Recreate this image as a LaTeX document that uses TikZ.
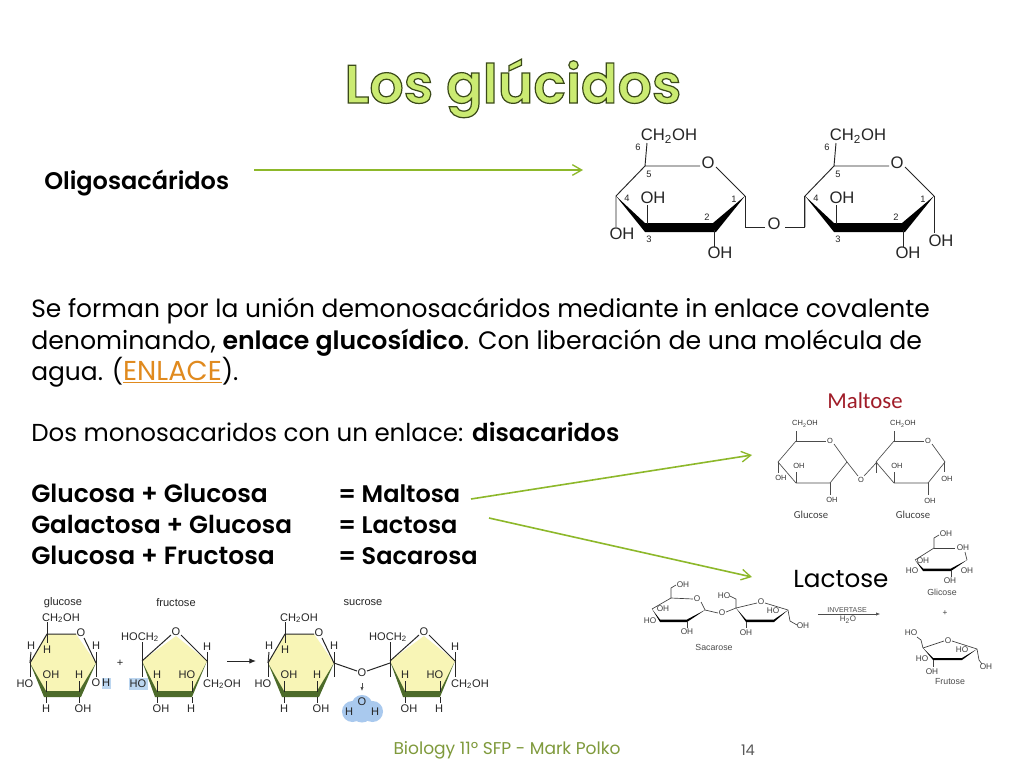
\documentclass[tikz,border=0pt]{standalone}
\usepackage{fontspec}
\setmainfont{Poppins}[BoldFont={Poppins SemiBold}]
\newfontfamily\chemfont{Liberation Sans}
\newfontfamily\capfont{Carlito}
\usetikzlibrary{arrows.meta}
\definecolor{arrowgreen}{HTML}{8DB82A}
\definecolor{titlefill}{HTML}{CBEB72}
\definecolor{footgreen}{HTML}{7F9A3C}
\definecolor{linkorange}{HTML}{E08A1E}
\definecolor{ringyellow}{HTML}{F8F5B6}
\definecolor{banddark}{HTML}{4D6B2A}
\definecolor{hiblue}{HTML}{BCD6F0}
\definecolor{waterblue}{HTML}{A9C9EE}
\definecolor{maltred}{HTML}{A01C28}
\newcount\atomno
\newcommand{\atm}[4][chemA]{\global\advance\atomno by 1 \node[#1] (atom\the\atomno) at (#2,#3) {#4};}
\newcommand{\sub}[1]{\textsubscript{#1}}
\newcommand{\fs}[1]{\fontsize{#1}{#1}\selectfont}
\tikzset{
 x=0.75pt,y=-0.75pt,
 chemA/.style={font=\chemfont\fs{12.5},inner sep=0pt,text=black!85},
 chemB/.style={font=\chemfont\fs{8.3},inner sep=0pt,text=black!85},
 chemBn/.style={font=\chemfont\fs{7},inner sep=0pt,text=black!85},
 chemC/.style={font=\chemfont\fs{5.6},inner sep=0pt,text=black!80},
 chemD/.style={font=\chemfont\fs{6.2},inner sep=0pt,text=black!75},
 chemDc/.style={font=\chemfont\fs{6.6},inner sep=0pt,text=black!70},
 bodyline/.style={anchor=base west,inner sep=0pt,text=black},
 greenarrow/.style={draw=arrowgreen,line width=1.2pt,-{Straight Barb[length=7pt,width=8pt,line width=1pt]}},
 bondA/.style={draw=black!85,line width=0.7pt},
 bondB/.style={draw=black!85,line width=0.75pt},
 bondC/.style={draw=black!70,line width=0.5pt},
 bondD/.style={draw=black!75,line width=0.5pt},
}
\newcommand{\pyranA}{%
 \draw[bondA] (645,166) -- (616,196) -- (616,227);
 \draw[bondA] (647,143) -- (645,166) -- (700,166);
 \draw[bondA] (716,167) -- (745,196);
 \fill[black] (616,196) -- (645,223) -- (713,223) -- (745,196) -- (716,232) -- (645,232) -- cycle;
 \draw[bondA] (647,205) -- (647,224);
 \draw[bondA] (714,230) -- (714,247);
 \atm[chemA]{669}{136}{CH\sub{2}OH}
 \atm[chemA]{708}{163}{O}
 \atm[chemA]{653}{198}{OH}
 \atm[chemBn]{638}{147}{6}
 \atm[chemBn]{649}{174}{5}
 \atm[chemBn]{627}{198}{4}
 \atm[chemBn]{649}{239}{3}
 \atm[chemBn]{707}{217}{2}
 \atm[chemBn]{734}{199}{1}
}
\newcommand{\glucring}{%
 \fill[ringyellow] (47,634) -- (76,634) -- (96,663) -- (79,692) -- (46,692) -- (30,663) -- cycle;
 \fill[banddark] (30,663) -- (46,691) -- (79,691) -- (96,663) -- (81,697) -- (44,697) -- cycle;
 \draw[bondB] (30,663) -- (47,634) -- (76,634);
 \draw[bondB] (84,638) -- (96,663);
 \draw[bondB] (47,622) -- (47,643);
 \draw[bondB] (30,663) -- (31,652);
 \draw[bondB] (30,663) -- (30,677);
 \draw[bondB] (96,663) -- (96,652);
 \draw[bondB] (96,663) -- (96,677);
 \draw[bondB] (46,692) -- (46,681);
 \draw[bondB] (79,692) -- (79,681);
 \draw[bondB] (46,697) -- (46,703);
 \draw[bondB] (79,697) -- (79,703);
 \atm[chemB]{61}{618}{CH\sub{2}OH}
 \atm[chemB]{81}{633}{O}
 \atm[chemB]{31}{646}{H}
 \atm[chemB]{47}{650}{H}
 \atm[chemB]{96}{646}{H}
 \atm[chemB]{25}{684}{HO}
 \atm[chemB]{51}{675}{OH}
 \atm[chemB]{79}{675}{H}
 \atm[chemB]{46}{709}{H}
 \atm[chemB]{83}{709}{OH}
}
\newcommand{\frucring}{%
 \fill[ringyellow] (176,636) -- (207,661) -- (192,692) -- (157,692) -- (142,661) -- cycle;
 \fill[banddark] (142,661) -- (157,691) -- (192,691) -- (207,661) -- (192,697) -- (155,697) -- cycle;
 \draw[bondB] (142,661) -- (171,635);
 \draw[bondB] (181,635) -- (207,661);
 \draw[bondB] (142,661) -- (142,642);
 \draw[bondB] (142,661) -- (142,677);
 \draw[bondB] (207,661) -- (207,652);
 \draw[bondB] (207,661) -- (207,677);
 \draw[bondB] (157,692) -- (157,681);
 \draw[bondB] (192,692) -- (192,681);
 \draw[bondB] (157,697) -- (157,703);
 \draw[bondB] (192,697) -- (192,703);
 \atm[chemB]{176}{632}{O}
 \atm[chemB]{140}{637}{HOCH\sub{2}}
 \atm[chemB]{207}{647}{H}
 \atm[chemB]{157}{675}{H}
 \atm[chemB]{187}{675}{HO}
 \atm[chemB]{222}{684}{CH\sub{2}OH}
 \atm[chemB]{161}{709}{OH}
 \atm[chemB]{191}{709}{H}
}
\newcommand{\maltring}{%
 \draw[bondC] (796,431) -- (796,441) -- (826,441);
 \draw[bondC] (834,444) -- (847,462) -- (830,483) -- (796,483) -- (778,462) -- (796,441);
 \draw[bondC] (778,462) -- (778,473);
 \draw[bondC] (796,483) -- (796,472);
 \draw[bondC] (830,483) -- (830,495);
 \atm[chemC]{830}{441}{O}
 \atm[chemC]{799}{466}{OH}
}
\begin{document}
\begin{tikzpicture}
\useasboundingbox (0,0) rectangle (1024,768);
\fill[white] (0,0) rectangle (1024,768);
% title
\node[anchor=base,inner sep=0pt,font=\fs{40.5}\bfseries,text=titlefill] (title) at (513,103)
  {\special{pdf:code 2 Tr 0.9 w 0.23 0.29 0.1 RG}Los glúcidos\special{pdf:code 0 Tr}};
% text
\node[bodyline,font=\fs{18}\bfseries] (oligo) at (44,189) {Oligosacáridos};
\node[bodyline,font=\fs{18.7}] (p1) at (31,317) {Se forman por la unión demonosacáridos mediante in enlace covalente};
\node[bodyline,font=\fs{18.9}] (p2) at (31,349) {denominando, \textbf{enlace glucosídico}. Con liberación de una molécula de};
\node[bodyline,font=\fs{18.7}] (p3) at (31,380) {agua. ({\color{linkorange}\underline{\fs{20.5}ENLACE}}).};
\node[bodyline,font=\fs{18.4}] (p4) at (31,441) {Dos monosacaridos con un enlace: \textbf{disacaridos}};
\node[bodyline,font=\fs{18.7}\bfseries] (g1) at (31,502) {Glucosa + Glucosa};
\node[bodyline,font=\fs{18.5}\bfseries] (g2) at (31,533) {Galactosa + Glucosa};
\node[bodyline,font=\fs{18.7}\bfseries] (g3) at (31,564) {Glucosa + Fructosa};
\node[bodyline,font=\fs{18}\bfseries] (r1) at (338,502) {= Maltosa};
\node[bodyline,font=\fs{18}\bfseries] (r2) at (338,533) {= Lactosa};
\node[bodyline,font=\fs{18}\bfseries] (r3) at (338,564) {= Sacarosa};
\node[bodyline,font=\fs{18.5}] (lactose) at (793,587) {Lactose};
\node[inner sep=0pt,font=\fs{12.8},text=footgreen] (foot) at (507,750) {Biology 11º SFP - Mark Polko};
\node[inner sep=0pt,font=\fs{11},text=black!65] (pageno) at (748,750) {14};
% arrows
\coordinate (a1s) at (254,170);
\coordinate (a1e) at (583,170);
\coordinate (a2s) at (471,499);
\coordinate (a2e) at (752,455);
\coordinate (a3s) at (489,518);
\coordinate (a3e) at (752,577);
\draw[greenarrow] (a1s) -- (a1e);
\draw[greenarrow] (a2s) -- (a2e);
\draw[greenarrow] (a3s) -- (a3e);
% top molecule
\pyranA
\begin{scope}[shift={(189,0)}]\pyranA\end{scope}
\atm[chemA]{622}{234}{OH}
\atm[chemA]{720}{253}{OH}
\draw[bondA] (745,196) -- (745,227) -- (765,227);
\atm[chemA]{774}{224}{O}
\draw[bondA] (785,227) -- (804,227) -- (804,196);
\draw[bondA] (934,196) -- (934,233);
\atm[chemA]{941}{241}{OH}
\atm[chemA]{908}{253}{OH}
% maltose
\node[inner sep=0pt,font=\capfont\fs{17.1},text=maltred] (malt) at (865,401) {Maltose};
\maltring
\atm[chemC]{805}{424}{CH\sub{2}OH}
\atm[chemC]{781}{478}{OH}
\atm[chemC]{832}{500}{OH}
\begin{scope}[shift={(98,0)}]\maltring\end{scope}
\atm[chemC]{903}{424}{CH\sub{2}OH}
\draw[bondC] (944,462) -- (944,472);
\atm[chemC]{947}{479}{OH}
\atm[chemC]{930}{501}{OH}
\atm[chemC]{861}{480}{O}
\draw[bondC] (847,462) -- (858,476);
\draw[bondC] (864,476) -- (877,462);
\node[inner sep=0pt,font=\capfont\fs{8},text=black!75] (gl1) at (811,515) {Glucose};
\node[inner sep=0pt,font=\capfont\fs{8},text=black!75] (gl2) at (913,515) {Glucose};
% glucose + fructose -> sucrose
\fill[hiblue] (102,678) rectangle (111,689);
\fill[hiblue] (129,678) rectangle (148,690);
\node[chemB] (glc) at (63,603) {glucose};
\node[chemB] (frc) at (176,603) {fructose};
\node[chemB] (suc) at (363,603) {sucrose};
\glucring
\atm[chemB]{96}{683}{O}
\atm[chemB]{106}{683}{H}
\atm[chemB]{120}{663}{+}
\frucring
\atm[chemB]{138}{684}{HO}
\draw[draw=black!85,line width=0.7pt,-{Latex[length=5pt,width=4pt]}] (227,661) -- (256,661);
\begin{scope}[shift={(238,0)}]\glucring\end{scope}
\begin{scope}[shift={(248,0)}]\frucring\end{scope}
\atm[chemB]{362}{673}{O}
\draw[bondB] (334,663) -- (357,671);
\draw[bondB] (367,671) -- (390,663);
\draw[draw=black!70,line width=0.5pt,-{Latex[length=3pt,width=2.5pt]}] (362,683) -- (362,691);
\fill[waterblue] (352.5,711.5) circle[radius=7.9pt] (372.5,711.5) circle[radius=7.9pt] (362,705.5) circle[radius=7.9pt] (362,712) circle[radius=7.9pt];
\atm[chemB]{349}{712}{H}
\atm[chemB]{362}{702}{O}
\atm[chemB]{375}{712}{H}
% sacarosa
\draw[bondD] (671,598) -- (671,588) -- (676,585);
\draw[bondD] (671,598) -- (693,599);
\draw[bondD] (652,609) -- (671,598);
\draw[bondD] (701,602) -- (705,610);
\fill[black] (652,609) -- (660,619.5) -- (687,619.5) -- (705,610) -- (687,622) -- (660,622) -- cycle;
\draw[bondD] (687,622) -- (687,628);
\draw[bondD] (705,610) -- (718,613);
\draw[bondD] (726,612) -- (736,608);
\draw[bondD] (736,608) -- (757,603);
\draw[bondD] (765,603) -- (788,610);
\fill[black] (736,608) -- (746,619.5) -- (774,619.5) -- (788,610) -- (774,622) -- (746,622) -- cycle;
\draw[bondD] (736,608) -- (736,599) -- (730,596);
\draw[bondD] (746,622) -- (746,628);
\draw[bondD] (788,610) -- (790,621) -- (797,625);
\atm[chemD]{683}{585}{OH}
\atm[chemD]{697}{599}{O}
\atm[chemD]{663}{609}{OH}
\atm[chemD]{650}{621}{HO}
\atm[chemD]{687}{632}{OH}
\atm[chemD]{722}{613}{O}
\atm[chemD]{724}{596}{HO}
\atm[chemD]{761}{602}{O}
\atm[chemD]{773}{611}{HO}
\atm[chemD]{746}{633}{OH}
\atm[chemD]{803}{626}{OH}
\atm[chemDc]{714}{647}{Sacarose}
% invertase
\node[inner sep=0pt,font=\chemfont\fs{5.3},text=black!70] (inv) at (847,610) {INVERTASE};
\node[inner sep=0pt,font=\chemfont\fs{6},text=black!70] (wat) at (848,620) {H\sub{2}O};
\draw[draw=black!70,line width=0.4pt,-{Latex[length=3pt,width=2.5pt]}] (818,614) -- (880,614);
% glicose
\draw[bondD] (934,548) -- (934,538) -- (939,535);
\draw[bondD] (934,548) -- (955,548);
\draw[bondD] (915,560) -- (934,548);
\draw[bondD] (965,552) -- (967,560);
\fill[black] (915,560) -- (923,568.5) -- (951,568.5) -- (967,560) -- (951,571) -- (923,571) -- cycle;
\draw[bondD] (951,571) -- (951,577);
\atm[chemD]{946}{534}{OH}
\atm[chemD]{963}{548}{OH}
\atm[chemD]{923}{561}{OH}
\atm[chemD]{912}{571}{HO}
\atm[chemD]{967}{571}{OH}
\atm[chemD]{950}{581}{OH}
\atm[chemDc]{942}{592}{Glicose}
\atm[chemD]{945}{613}{+}
% frutose
\draw[bondD] (923,648) -- (944,641);
\draw[bondD] (952,641) -- (977,649);
\fill[black] (923,648) -- (933,658) -- (962,658) -- (977,649) -- (962,660) -- (933,660) -- cycle;
\draw[bondD] (923,648) -- (921,640) -- (917,637);
\draw[bondD] (933,660) -- (933,667);
\draw[bondD] (977,649) -- (979,660) -- (982,664);
\atm[chemD]{911}{633}{HO}
\atm[chemD]{948}{641}{O}
\atm[chemD]{922}{659}{HO}
\atm[chemD]{962}{650}{HO}
\atm[chemD]{932}{672}{OH}
\atm[chemD]{986}{667}{OH}
\atm[chemDc]{950}{682}{Frutose}
\end{tikzpicture}
\end{document}
